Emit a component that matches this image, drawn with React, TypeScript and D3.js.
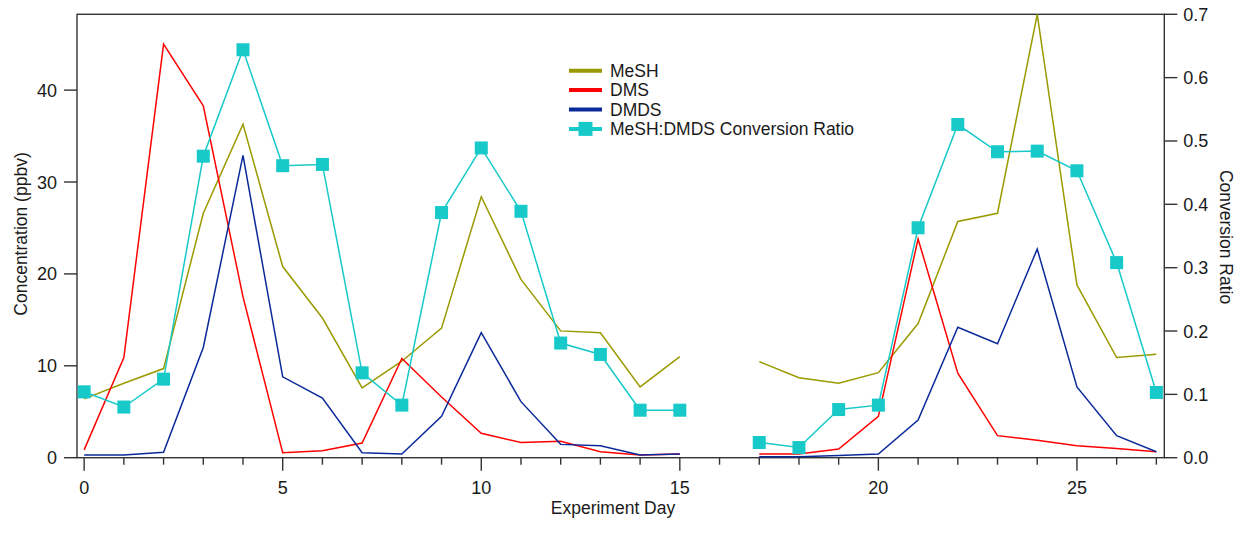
import React from 'react';
import * as d3 from 'd3';

// experiment days 0..27, no sample on day 16
const days = d3.range(0, 28);
const mesh = [6.4, 8.1, 9.7, 26.6, 36.3, 20.8, 15.2, 7.6, 10.5, 14.1, 28.4, 19.4, 13.8, 13.6, 7.7, 11.0,
    null, 10.45, 8.7, 8.1, 9.25, 14.6, 25.7, 26.6, 48.25, 18.8, 10.9, 11.25];
const dms = [0.85, 10.9, 45.0, 38.3, 17.5, 0.55, 0.76, 1.6, 10.8, 6.6, 2.65, 1.65, 1.8, 0.65, 0.3, 0.4,
    null, 0.4, 0.4, 0.95, 4.5, 23.8, 9.2, 2.4, 1.9, 1.3, 1.0, 0.65];
const dmds = [0.3, 0.3, 0.6, 12.0, 32.9, 8.8, 6.5, 0.55, 0.4, 4.5, 13.6, 6.1, 1.45, 1.3, 0.3, 0.4,
    null, 0.1, 0.1, 0.25, 0.4, 4.1, 14.2, 12.4, 22.7, 7.7, 2.4, 0.65];
const ratio = [0.104, 0.080, 0.124, 0.476, 0.644, 0.461, 0.463, 0.134, 0.083, 0.387, 0.489, 0.389, 0.181, 0.163, 0.075, 0.075,
    null, 0.024, 0.016, 0.076, 0.083, 0.363, 0.526, 0.483, 0.484, 0.453, 0.308, 0.103];

const leftTicks = [0, 10, 20, 30, 40];
const rightTicks = [0, 0.1, 0.2, 0.3, 0.4, 0.5, 0.6, 0.7];
const xMajor = [0, 5, 10, 15, 20, 25];

const colors = { mesh: '#9a9a00', dms: '#ff0000', dmds: '#0b2a9a', ratio: '#17c9c9' };
const legendItems = [
    { label: 'MeSH', color: colors.mesh, marker: false },
    { label: 'DMS', color: colors.dms, marker: false },
    { label: 'DMDS', color: colors.dmds, marker: false },
    { label: 'MeSH:DMDS Conversion Ratio', color: colors.ratio, marker: true }
];

const W = 1243, H = 533;
const left = 77, right = 1164.3, top = 14.3, bottom = 457.7;
const font = '"Liberation Sans", Arial, sans-serif';
const axisColor = '#333';

export default function App() {
    const x = d3.scaleLinear().domain([-0.18, 27.2]).range([left, right]);
    const yL = d3.scaleLinear().domain([0, d3.max(mesh as number[])]).range([bottom, top]);
    const yR = d3.scaleLinear().domain([0, 0.7]).range([bottom, top]);

    const lineFn = (scale) => d3.line<any>()
        .defined(d => d != null)
        .x((d, i) => x(days[i]))
        .y(d => scale(d));

    const series = [
        { values: mesh, color: colors.mesh, scale: yL },
        { values: dms, color: colors.dms, scale: yL },
        { values: dmds, color: colors.dmds, scale: yL },
        { values: ratio, color: colors.ratio, scale: yR }
    ];

    return (
        <svg width={W} height={H} style={{ position: 'absolute', left: 0, top: 0, background: '#fff' }}
             fontFamily={font} fontSize={18} fill="#1a1a1a">
            {/* frame */}
            <rect x={left} y={top} width={right - left} height={bottom - top} fill="none" stroke={axisColor} strokeWidth={1.4} />

            {/* left axis */}
            {leftTicks.map(t => (
                <g key={'l' + t}>
                    <line x1={left - 13} x2={left} y1={yL(t)} y2={yL(t)} stroke={axisColor} strokeWidth={1.4} />
                    <text x={left - 20} y={yL(t) + 6.5} textAnchor="end">{t}</text>
                </g>
            ))}
            <text transform={`translate(27,234) rotate(-90)`} textAnchor="middle" fontSize={17.5}>Concentration (ppbv)</text>

            {/* right axis */}
            {rightTicks.map(t => (
                <g key={'r' + t}>
                    <line x1={right} x2={right + 13} y1={yR(t)} y2={yR(t)} stroke={axisColor} strokeWidth={1.4} />
                    <text x={right + 19} y={yR(t) + 6.5}>{t.toFixed(1)}</text>
                </g>
            ))}
            <text transform={`translate(1220,237) rotate(90)`} textAnchor="middle" fontSize={17.5}>Conversion Ratio</text>

            {/* bottom axis */}
            {days.map(d => (
                <line key={'x' + d} x1={x(d)} x2={x(d)} y1={bottom}
                      y2={bottom + (xMajor.includes(d) ? 13 : 7)} stroke={axisColor} strokeWidth={1.4} />
            ))}
            {xMajor.map(d => (
                <text key={'xl' + d} x={x(d)} y={494} textAnchor="middle">{d}</text>
            ))}
            <text x={613} y={514} textAnchor="middle" fontSize={17.5}>Experiment Day</text>

            {/* series */}
            {series.map((s, i) => (
                <path key={i} d={lineFn(s.scale)(s.values)} fill="none" stroke={s.color} strokeWidth={1.5} />
            ))}
            {ratio.map((v, i) => v == null ? null : (
                <rect key={'m' + i} x={x(days[i]) - 6.5} y={yR(v) - 6.5} width={13} height={13} fill={colors.ratio} />
            ))}

            {/* legend */}
            {legendItems.map((item, i) => {
                const cy = 70.7 + i * 19.4;
                return (
                    <g key={item.label}>
                        <line x1={569} x2={602} y1={cy} y2={cy} stroke={item.color} strokeWidth={4} />
                        {item.marker ? <rect x={578.5} y={cy - 7} width={14} height={14} fill={item.color} /> : null}
                        <text x={610} y={cy + 6} fontSize={17.5}>{item.label}</text>
                    </g>
                );
            })}
        </svg>
    );
}
